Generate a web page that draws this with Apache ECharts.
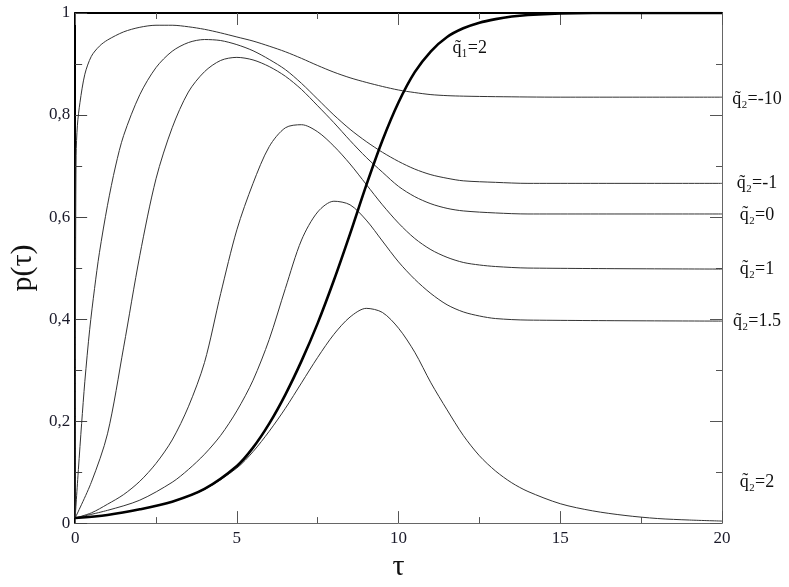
<!DOCTYPE html>
<html>
<head>
<meta charset="utf-8">
<script src="https://cdn.jsdelivr.net/npm/echarts@6/dist/echarts.min.js"></script>
<style>
  html, body { margin: 0; padding: 0; background: #fff; }
  #main { width: 789px; height: 587px; }
</style>
</head>
<body>
<div id="main"></div>
<script>
// values (tau, p)
var tauM10 = [0, 0.01, 0.03, 0.07, 0.15, 0.3, 0.5, 0.75, 1, 1.5, 2, 2.5, 3, 3.5, 4, 4.5, 5, 5.5, 6, 6.5, 7, 7.5, 8, 8.5, 9, 9.5, 10, 10.5, 11, 11.5, 12, 13, 15, 20];
var pM10   = [0.01, 0.40, 0.72, 0.78, 0.825, 0.88, 0.915, 0.935, 0.947, 0.963, 0.972, 0.976, 0.976, 0.973, 0.968, 0.961, 0.953, 0.945, 0.935, 0.924, 0.911, 0.897, 0.884, 0.873, 0.864, 0.856, 0.849, 0.844, 0.840, 0.838, 0.837, 0.836, 0.835, 0.835];

var tauM1 = [0, 0.1, 0.2, 0.3, 0.45, 0.6, 0.75, 1, 1.25, 1.5, 2, 2.5, 3, 3.5, 4, 4.5, 5, 5.5, 6, 6.5, 7, 7.5, 8, 8.5, 9, 9.5, 10, 10.5, 11, 11.5, 12, 13, 14, 20];
var pM1   = [0.01, 0.105, 0.195, 0.278, 0.38, 0.46, 0.53, 0.623, 0.70, 0.76, 0.84, 0.893, 0.925, 0.942, 0.948, 0.946, 0.938, 0.926, 0.909, 0.889, 0.862, 0.831, 0.80, 0.772, 0.748, 0.727, 0.709, 0.694, 0.683, 0.676, 0.671, 0.668, 0.666, 0.666];

var tau0 = [0, 0.5, 1, 1.5, 2, 2.5, 3, 3.5, 4, 4.5, 5, 5.5, 6, 6.5, 7, 7.5, 8, 8.5, 9, 9.5, 10, 10.5, 11, 11.5, 12, 13, 14, 20];
var p0   = [0.01, 0.08, 0.175, 0.345, 0.525, 0.675, 0.775, 0.845, 0.885, 0.907, 0.913, 0.908, 0.895, 0.876, 0.85, 0.818, 0.785, 0.75, 0.717, 0.688, 0.66, 0.64, 0.626, 0.617, 0.612, 0.608, 0.606, 0.606];

var tau1 = [0, 0.5, 1, 1.5, 2, 2.5, 3, 3.5, 4, 4.5, 5, 5.5, 6, 6.5, 7, 7.5, 8, 8.5, 9, 9.5, 10, 10.5, 11, 11.5, 12, 12.5, 13, 14, 20];
var p1   = [0.01, 0.02, 0.037, 0.056, 0.082, 0.117, 0.163, 0.228, 0.315, 0.45, 0.575, 0.666, 0.738, 0.775, 0.781, 0.767, 0.739, 0.704, 0.664, 0.624, 0.588, 0.558, 0.536, 0.521, 0.511, 0.506, 0.503, 0.5, 0.498];

var tau15 = [0, 1, 2, 3, 3.5, 4, 4.5, 5, 5.5, 6, 6.5, 7, 7.5, 8, 8.5, 9, 9.5, 10, 10.5, 11, 11.5, 12, 12.5, 13, 14, 20];
var p15   = [0.01, 0.025, 0.045, 0.08, 0.105, 0.135, 0.172, 0.22, 0.28, 0.36, 0.46, 0.555, 0.61, 0.631, 0.624, 0.594, 0.553, 0.512, 0.478, 0.45, 0.428, 0.414, 0.406, 0.401, 0.398, 0.396];

var tau2 = [0, 1, 2, 3, 4, 5, 5.5, 6, 6.5, 7, 7.5, 8, 8.5, 9, 9.5, 10, 10.5, 11, 11.5, 12, 12.5, 13, 13.5, 14, 15, 16, 17, 18, 19, 20];
var p2   = [0.01, 0.016, 0.027, 0.042, 0.066, 0.108, 0.14, 0.18, 0.225, 0.275, 0.325, 0.37, 0.404, 0.421, 0.413, 0.382, 0.335, 0.275, 0.222, 0.172, 0.132, 0.102, 0.079, 0.062, 0.038, 0.024, 0.015, 0.009, 0.006, 0.004];

// bold curve q1=2
var tauQ1 = [0, 1, 2, 3, 4, 5, 5.5, 6, 6.5, 7, 7.5, 8, 8.5, 9, 9.5, 10, 10.5, 11, 11.5, 12, 12.5, 13, 13.5, 14, 15, 16, 20];
var pQ1   = [0.01, 0.016, 0.027, 0.042, 0.067, 0.112, 0.148, 0.195, 0.252, 0.318, 0.392, 0.476, 0.567, 0.662, 0.75, 0.825, 0.884, 0.925, 0.953, 0.97, 0.981, 0.988, 0.993, 0.996, 0.999, 1.0, 1.0];

var yTicks = [0, 0.2, 0.4, 0.6, 0.8, 1];

function pairs(t, p) {
  return t.map(function (v, i) { return [v, p[i]]; });
}

var curves = [
  { tau: tauM10, p: pM10, text: 'q\u0303\u2082=-10', dy: 2 },
  { tau: tauM1,  p: pM1,  text: 'q\u0303\u2082=-1',  dy: 0 },
  { tau: tau0,   p: p0,   text: 'q\u0303\u2082=0',   dy: 1 },
  { tau: tau1,   p: p1,   text: 'q\u0303\u2082=1',   dy: 0 },
  { tau: tau15,  p: p15,  text: 'q\u0303\u2082=1.5', dy: 0 },
  { tau: tau2,   p: p2,   text: 'q\u0303\u2082=2',   dy: -39 }
];

var serif = 'Liberation Serif';
var chart = echarts.init(document.getElementById('main'));

var series = curves.map(function (c) {
  return {
    type: 'line',
    data: pairs(c.tau, c.p),
    showSymbol: false,
    symbol: 'none',
    smooth: 0.3,
    lineStyle: { color: '#333', width: 1 },
    z: 2
  };
});
series.push({
  type: 'line',
  data: pairs(tauQ1, pQ1),
  showSymbol: false,
  symbol: 'none',
  smooth: 0.3,
  lineStyle: { color: '#000', width: 2.6 },
  z: 3
});

var option = {
  animation: false,
  backgroundColor: '#fff',
  grid: { left: 74, right: 67, top: 13, bottom: 52 },
  xAxis: [{
    type: 'value', min: 0, max: 20, interval: 5, position: 'bottom',
    name: 'τ', nameLocation: 'middle', nameGap: 26,
    nameTextStyle: { fontFamily: serif, fontSize: 30, color: '#111' },
    axisLine: { onZero: false, lineStyle: { color: '#666', width: 1 } },
    axisTick: { inside: true, length: 12, lineStyle: { color: '#555' } },
    minorTick: { show: true, splitNumber: 2, length: 6, lineStyle: { color: '#555' } },
    splitLine: { show: false },
    axisLabel: { fontFamily: serif, fontSize: 17, color: '#1a1a2a', margin: 7 }
  }, {
    type: 'value', min: 0, max: 20, interval: 5, position: 'top',
    axisLine: { onZero: false, lineStyle: { color: '#000', width: 2 } },
    axisTick: { inside: true, length: 12, lineStyle: { color: '#555' } },
    minorTick: { show: true, splitNumber: 2, length: 6, lineStyle: { color: '#555' } },
    splitLine: { show: false },
    axisLabel: { show: false }
  }],
  yAxis: [{
    type: 'value', min: 0, max: 1, interval: 0.2, position: 'left',
    name: 'p(τ)', nameLocation: 'middle', nameGap: 34, nameRotate: 90,
    nameTextStyle: { fontFamily: serif, fontSize: 30, color: '#111' },
    axisLine: { onZero: false, lineStyle: { color: '#000', width: 2 } },
    axisTick: { inside: true, length: 12, lineStyle: { color: '#444' } },
    minorTick: { show: true, splitNumber: 2, length: 7, lineStyle: { color: '#444' } },
    splitLine: { show: false },
    axisLabel: {
      fontFamily: serif, fontSize: 17, color: '#1a1a2a', margin: 5,
      formatter: function (v) {
        var hit = yTicks.filter(function (t) { return Math.abs(t - v) < 1e-6; })[0];
        return String(hit).replace('.', ',');
      }
    }
  }, {
    type: 'value', min: 0, max: 1, interval: 0.2, position: 'right',
    axisLine: { onZero: false, lineStyle: { color: '#666', width: 1 } },
    axisTick: { inside: true, length: 12, lineStyle: { color: '#555' } },
    minorTick: { show: true, splitNumber: 2, length: 6, lineStyle: { color: '#555' } },
    splitLine: { show: false },
    axisLabel: { show: false }
  }],
  series: series
};

chart.setOption(option);

// curve labels next to the right frame
var texts = curves.map(function (c) {
  var pt = chart.convertToPixel({ xAxisIndex: 0, yAxisIndex: 0 }, [c.tau[c.tau.length - 1], c.p[c.p.length - 1]]);
  return {
    type: 'text', x: pt[0] + 35, y: pt[1] + c.dy,
    style: {
      text: c.text, font: '18px Liberation Serif', fill: '#111',
      align: 'center', verticalAlign: 'middle', textAlign: 'center', textVerticalAlign: 'middle'
    }
  };
});
var q1pt = chart.convertToPixel({ xAxisIndex: 0, yAxisIndex: 0 }, [12.2, 0.93]);
texts.push({
  type: 'text', x: q1pt[0], y: q1pt[1],
  style: {
    text: 'q\u0303\u2081=2', font: '18px Liberation Serif', fill: '#111',
    align: 'center', verticalAlign: 'middle', textAlign: 'center', textVerticalAlign: 'middle'
  }
});
chart.setOption({ graphic: texts });
</script>
</body>
</html>
